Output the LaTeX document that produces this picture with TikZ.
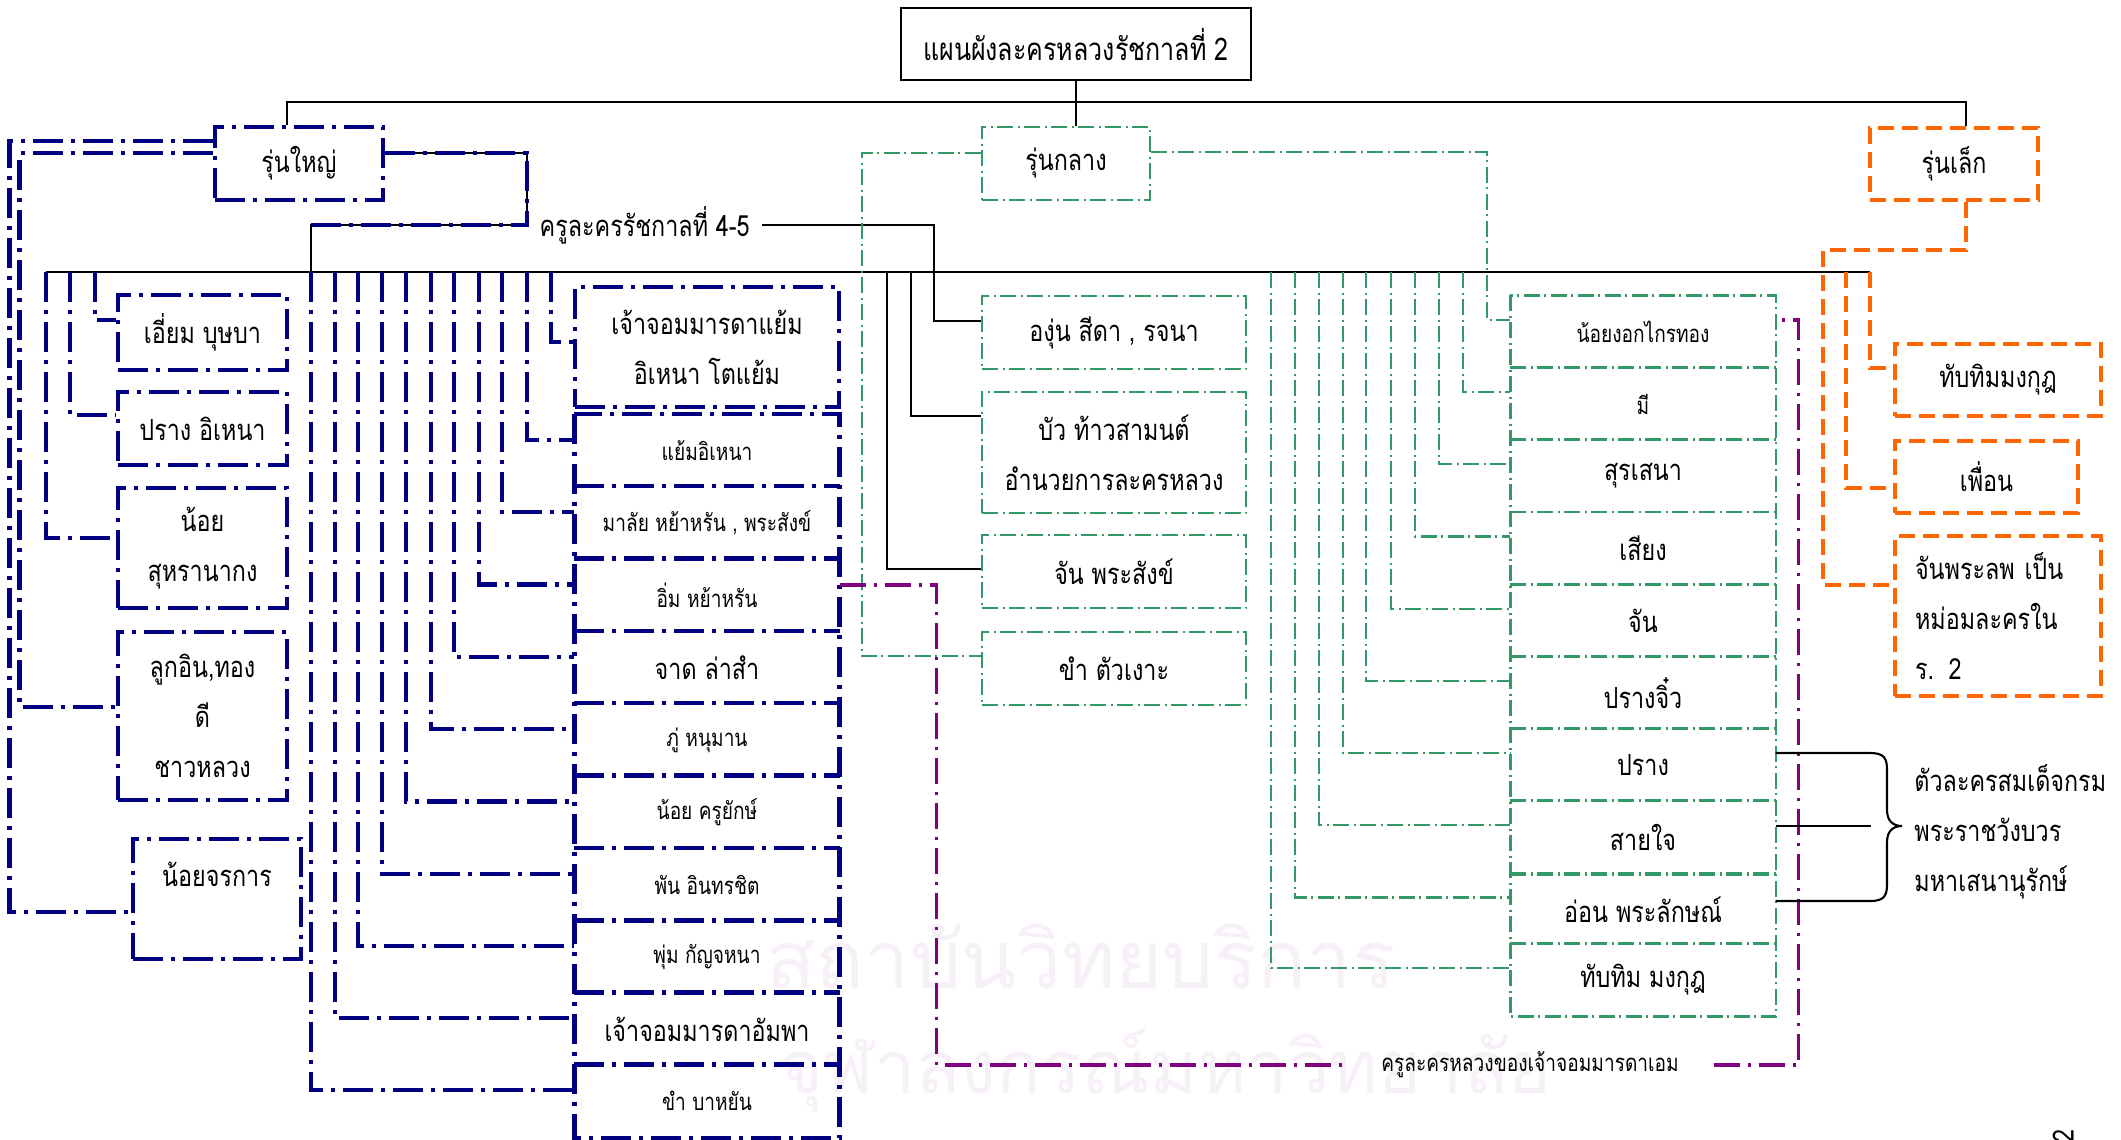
\documentclass[tikz,border=0pt]{standalone}
\usepackage{fontspec}
\newfontfamily\thai[Script=Thai,FakeStretch=0.8]{Loma}
\newfontfamily\thaiw[Script=Thai]{Loma}
\newcommand\thaim{\thai\fontsize{8.3}{14.2}\selectfont}
\newcommand\thais{\thai\fontsize{6.8}{10}\selectfont}
\newcommand\thait{\thai\fontsize{8.9}{12}\selectfont}
\definecolor{navyc}{HTML}{000080}
\definecolor{greenc}{HTML}{339966}
\definecolor{orangec}{HTML}{FF6600}
\definecolor{purplec}{HTML}{800080}
\definecolor{markc}{HTML}{F8F0F8}

\begin{document}
\begin{tikzpicture}[x=0.1mm, y=-0.1mm,
  navyline/.style={draw=navyc, line width=1.3pt, dash pattern=on 3mm off 0.8mm on 0.4mm off 0.8mm},
  greenline/.style={draw=greenc, line width=0.7pt, dash pattern=on 1.6mm off 0.45mm on 0.2mm off 0.45mm},
  orangeline/.style={draw=orangec, line width=1.1pt, dash pattern=on 1.6mm off 0.8mm},
  purpleline/.style={draw=purplec, line width=0.9pt, dash pattern=on 2.6mm off 0.8mm on 0.3mm off 0.8mm},
  blackline/.style={draw=black, line width=0.6pt},
  navybox/.style={navyline, inner sep=0pt, align=center, font=\thaim},
  greenbox/.style={greenline, inner sep=0pt, align=center, font=\thaim},
  orangebox/.style={orangeline, inner sep=0pt, align=center, font=\thaim},
  memb/.style={inner sep=0pt, align=center, font=\thaim, minimum width=26.4mm, minimum height=7.22mm},
  gmemb/.style={inner sep=0pt, align=center, font=\thaim, minimum width=26.4mm, minimum height=7.2mm}]

\useasboundingbox (0,0) rectangle (2121,1139);

% watermark
\node[font=\thaiw\fontsize{23}{23}\selectfont, text=markc] (mark1) at (1081,956) {สถาบันวิทยบริการ};
\node[font=\thaiw\fontsize{21}{21}\selectfont, text=markc] (mark2) at (1166,1071) {จุฬาลงกรณ์มหาวิทยาลัย};

% top level
\node[draw, line width=0.8pt, minimum width=35mm, minimum height=7.2mm, font=\thait] (title) at (1076,44) {แผนผังละครหลวงรัชกาลที่ 2};
\node[navybox, minimum width=16.8mm, minimum height=7.3mm] (yai) at (299,163.5) {รุ่นใหญ่};
\node[greenbox, minimum width=16.8mm, minimum height=7.3mm] (klang) at (1066,163.5) {รุ่นกลาง};
\node[orangebox, minimum width=16.8mm, minimum height=7.2mm] (lek) at (1954,164) {รุ่นเล็ก};
\node[font=\thaim, inner sep=1.2mm, anchor=west] (kru) at (527,225) {ครูละครรัชกาลที่ 4-5};

% left column
\node[navybox, minimum width=16.9mm, minimum height=7.5mm] (leam) at (202.5,332.5) {เอี่ยม บุษบา};
\node[navybox, minimum width=16.9mm, minimum height=7.3mm] (prang) at (202.5,428.5) {ปราง อิเหนา};
\node[navybox, minimum width=16.9mm, minimum height=12mm] (noi) at (202.5,548) {น้อย\\สุหรานากง};
\node[navybox, minimum width=16.9mm, minimum height=16.8mm] (lukin) at (202.5,716) {ลูกอิน,ทอง\\ดี\\ชาวหลวง};
\node[navybox, minimum width=16.8mm, minimum height=12mm] (jorakan) at (217,899) {น้อยจรการ\\~};

% navy members
\node[navybox, minimum width=26.4mm, minimum height=12mm] (yam) at (707,347) {เจ้าจอมมารดาแย้ม\\อิเหนา โตแย้ม};
\node[memb, font=\thais] (yamina) at (707,451) {แย้มอิเหนา};
\node[memb, font=\thais] (malai) at (707,523) {มาลัย หย้าหรัน , พระสังข์};
\node[memb, font=\thais] (im) at (707,595.5) {อิ่ม หย้าหรัน};
\node[memb] (jad) at (707,668) {จาด ล่าสำ};
\node[memb, font=\thais] (phu) at (707,740) {ภู่ หนุมาน};
\node[memb, font=\thais] (noiyak) at (707,812.5) {น้อย ครูยักษ์};
\node[memb, font=\thais] (phan) at (707,885) {พัน อินทรชิต};
\node[memb, font=\thais] (phum) at (707,957) {พุ่ม กัญจหนา};
\node[memb] (ampha) at (707,1029) {เจ้าจอมมารดาอัมพา};
\node[memb, font=\thais] (kham) at (707,1101) {ขำ บาหยัน};
\draw[navyline] (yamina.north west) rectangle (kham.south east);
\draw[navyline] (malai.north west) -- (malai.north east);
\draw[navyline] (im.north west) -- (im.north east);
\draw[navyline] (jad.north west) -- (jad.north east);
\draw[navyline] (phu.north west) -- (phu.north east);
\draw[navyline] (noiyak.north west) -- (noiyak.north east);
\draw[navyline] (phan.north west) -- (phan.north east);
\draw[navyline] (phum.north west) -- (phum.north east);
\draw[navyline] (ampha.north west) -- (ampha.north east);
\draw[navyline] (kham.north west) -- (kham.north east);

% green teachers
\node[greenbox, minimum width=26.4mm, minimum height=7.3mm] (ngun) at (1114,332.5) {องุ่น สีดา , รจนา};
\node[greenbox, minimum width=26.4mm, minimum height=12.1mm] (bua) at (1114,452.5) {บัว ท้าวสามนต์\\อำนวยการละครหลวง};
\node[greenbox, minimum width=26.4mm, minimum height=7.3mm] (jansang) at (1114,571.5) {จัน พระสังข์};
\node[greenbox, minimum width=26.4mm, minimum height=7.3mm] (khamngo) at (1114,668.5) {ขำ ตัวเงาะ};

% green members
\node[gmemb, font=\thais] (ngok) at (1643,332) {น้อยงอกไกรทอง};
\node[gmemb, font=\thais] (mi) at (1643,404) {มี};
\node[gmemb] (surasena) at (1643,476) {สุรเสนา};
\node[gmemb] (siang) at (1643,548.5) {เสียง};
\node[gmemb] (jan) at (1643,621) {จัน};
\node[gmemb] (prangjio) at (1643,693) {ปรางจิ๋ว};
\node[gmemb] (prangg) at (1643,765) {ปราง};
\node[gmemb] (saijai) at (1643,837) {สายใจ};
\node[gmemb, minimum height=6.9mm] (on) at (1643,909.5) {อ่อน พระลักษณ์};
\node[gmemb] (thapthim) at (1643,980) {ทับทิม มงกุฎ};
\draw[greenline] (ngok.north west) rectangle (thapthim.south east);
\draw[greenline] (mi.north west) -- (mi.north east);
\draw[greenline] (surasena.north west) -- (surasena.north east);
\draw[greenline] (siang.north west) -- (siang.north east);
\draw[greenline] (jan.north west) -- (jan.north east);
\draw[greenline] (prangjio.north west) -- (prangjio.north east);
\draw[greenline] (prangg.north west) -- (prangg.north east);
\draw[greenline] (saijai.north west) -- (saijai.north east);
\draw[greenline] (saijai.south west) -- (saijai.south east);
\draw[greenline] (on.north west) -- (on.north east);
\draw[greenline] (thapthim.north west) -- (thapthim.north east);

% orange members
\node[orangebox, minimum width=20.6mm, minimum height=7.2mm] (thapthimo) at (1998,380) {ทับทิมมงกุฎ};
\node[orangebox, minimum width=18.3mm, minimum height=7.2mm] (phuean) at (1986.5,477) {เพื่อน};
\node[orangebox, minimum width=20.6mm, minimum height=16mm, inner xsep=2mm, text width=16.6mm, align=left] (janlop) at (1998,616) {จันพระลพ เป็น\\หม่อมละครใน\\ร. 2};

\node[font=\thais, inner ysep=1mm, inner xsep=3.4mm] (kruem) at (1530,1065) {ครูละครหลวงของเจ้าจอมมารดาเอม};
\node[font=\thaim, align=left, anchor=west] (wang) at (1902,832) {ตัวละครสมเด็จกรม\\พระราชวังบวร\\มหาเสนานุรักษ์};
\node[font=\thaim, rotate=90] (pnum) at (2063,1136) {2};

% bus
\coordinate (busl) at (46,272);
\coordinate (busr) at (1870,272);
\coordinate (dl1) at (95,272);
\coordinate (dl2) at (70,272);
\coordinate (dm1) at (551,272);
\coordinate (dm2) at (527,272);
\coordinate (dm3) at (502,272);
\coordinate (dm4) at (479,272);
\coordinate (dm5) at (454,272);
\coordinate (dm6) at (431,272);
\coordinate (dm7) at (406,272);
\coordinate (dm8) at (382,272);
\coordinate (dm9) at (358,272);
\coordinate (dm10) at (335,272);
\coordinate (dm11) at (311,272);
\coordinate (dg2) at (911,272);
\coordinate (dg3) at (887,272);
\coordinate (dr2) at (1463,272);
\coordinate (dr3) at (1439,272);
\coordinate (dr4) at (1415,272);
\coordinate (dr5) at (1391,272);
\coordinate (dr6) at (1366,272);
\coordinate (dr7) at (1343,272);
\coordinate (dr8) at (1319,272);
\coordinate (dr9) at (1295,272);
\coordinate (dr10) at (1271,272);
\coordinate (do2) at (1846,272);
\draw[blackline] (busl) -- (busr);

% title
\draw[blackline] (title.south) -- (title.south |- klang.north);
\draw[blackline] ([xshift=-1.2mm]yai.north) -- ++(0,-23) -| ([xshift=1.2mm]lek.north);

% teachers 4-5
\draw[blackline] ([yshift=1.05mm]yai.east) -| (kru.west) -| (dm11);
\draw[navyline] ([yshift=1.05mm]yai.east) -| (kru.west) -- (kru.west -| dm11);
\draw[blackline] (kru.east) -| ([xshift=-4.7mm,yshift=1.15mm]ngun.west) -- ([yshift=1.15mm]ngun.west);
\draw[blackline] (dg2) |- ([yshift=3.65mm]bua.west);
\draw[blackline] (dg3) |- ([yshift=0.25mm]jansang.west);

% rung yai
\draw[navyline] ([yshift=2.25mm]yai.west) -- ++(-203,0) |- ([yshift=-1.3mm]jorakan.west);
\draw[navyline] ([yshift=1.05mm]yai.west) -- ++(-193,0) |- ([yshift=0.9mm]lukin.west);
\draw[navyline] (dl1) |- ([yshift=1.25mm]leam.west);
\draw[navyline] (dl2) |- ([yshift=1.35mm]prang.west);
\draw[navyline] (busl) |- ([yshift=1mm]noi.west);
\draw[navyline] (dm1) |- ([yshift=0.5mm]yam.west);
\draw[navyline] (dm2) |- ([yshift=1.1mm]yamina.west);
\draw[navyline] (dm3) |- ([yshift=1.1mm]malai.west);
\draw[navyline] (dm4) |- ([yshift=1.1mm]im.west);
\draw[navyline] (dm5) |- ([yshift=1.1mm]jad.west);
\draw[navyline] (dm6) |- ([yshift=1.1mm]phu.west);
\draw[navyline] (dm7) |- ([yshift=1.1mm]noiyak.west);
\draw[navyline] (dm8) |- ([yshift=1.1mm]phan.west);
\draw[navyline] (dm9) |- ([yshift=1.1mm]phum.west);
\draw[navyline] (dm10) |- ([yshift=1.1mm]ampha.west);
\draw[navyline] (dm11) |- ([yshift=1.1mm]kham.west);

% rung klang
\draw[greenline] ([yshift=1.05mm]klang.west) -- ++(-119,0) |- ([yshift=1.25mm]khamngo.west);
\draw[greenline] ([yshift=1.15mm]klang.east) -- ++(336,0) |- ([yshift=1.2mm]ngok.west);
\draw[greenline] (dr2) |- ([yshift=1.2mm]mi.west);
\draw[greenline] (dr3) |- ([yshift=1.2mm]surasena.west);
\draw[greenline] (dr4) |- ([yshift=1.2mm]siang.west);
\draw[greenline] (dr5) |- ([yshift=1.2mm]jan.west);
\draw[greenline] (dr6) |- ([yshift=1.2mm]prangjio.west);
\draw[greenline] (dr7) |- ([yshift=1.2mm]prangg.west);
\draw[greenline] (dr8) |- ([yshift=1.2mm]saijai.west);
\draw[greenline] (dr9) |- ([yshift=1.2mm]on.west);
\draw[greenline] (dr10) |- ([yshift=1.2mm]thapthim.west);

% rung lek
\draw[orangeline] ([xshift=1.2mm]lek.south) -- ++(0,48) -- ++(-143,0) |- ([yshift=3.1mm]janlop.west);
\draw[orangeline] (do2) |- ([yshift=-1.1mm]phuean.west);
\draw[orangeline] (busr) |- ([yshift=1.2mm]thapthimo.west);

% chao chom am
\draw[purpleline] ([yshift=1.05mm]im.east) -- ++(97,0) |- (kruem.west);
\draw[purpleline] (kruem.east) -| ([xshift=2.3mm,yshift=1.2mm]ngok.east) -- ([yshift=1.2mm]ngok.east);

% brace
\draw[blackline] ([yshift=1.2mm]prangg.east) -- (1870,753) .. controls (1884,753) and (1887,758) .. (1887,770) -- (1887,810) .. controls (1887,821) and (1893,826) .. (1902,826) .. controls (1893,826) and (1887,831) .. (1887,842) -- (1887,884) .. controls (1887,896) and (1884,901) .. (1870,901) -- ([yshift=0.85mm]on.east);
\draw[blackline] ([yshift=1.1mm]saijai.east) -- ++(95,0);
\end{tikzpicture}
\end{document}
